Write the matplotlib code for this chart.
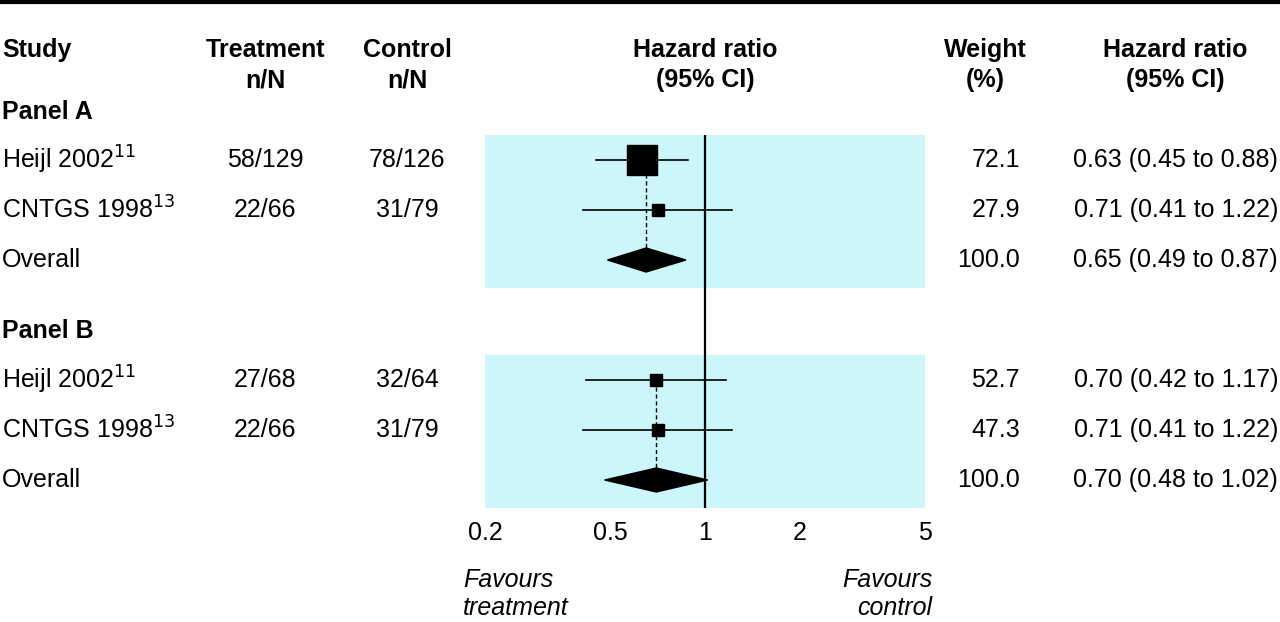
import matplotlib
matplotlib.use("Agg")
import matplotlib.pyplot as plt
from matplotlib.patches import Rectangle, Polygon

plt.rcParams['font.family'] = ['Liberation Sans Narrow', 'Liberation Sans', 'DejaVu Sans']
plt.rcParams['mathtext.fontset'] = 'custom'
plt.rcParams['mathtext.rm'] = 'Liberation Sans Narrow'

studies = [r"Heijl 2002$^{11}$", r"CNTGS 1998$^{13}$", "Overall"]
trt_A = ["58/129", "22/66", ""]
ctl_A = ["78/126", "31/79", ""]
hr_A = [0.63, 0.71, 0.65]
lo_A = [0.45, 0.41, 0.49]
hi_A = [0.88, 1.22, 0.87]
wt_A = [72.1, 27.9, 100.0]
trt_B = ["27/68", "22/66", ""]
ctl_B = ["32/64", "31/79", ""]
hr_B = [0.70, 0.71, 0.70]
lo_B = [0.42, 0.41, 0.48]
hi_B = [1.17, 1.22, 1.02]
wt_B = [52.7, 47.3, 100.0]
xticks = [0.2, 0.5, 1, 2, 5]
xticklabels = ["0.2", "0.5", "1", "2", "5"]

W, H = 1280, 622
fig = plt.figure(figsize=(12.8, 6.22), dpi=100)
bg = fig.add_axes([0, 0, 1, 1])
bg.set_xlim(0, W); bg.set_ylim(H, 0); bg.axis('off')
bg.plot([0, W], [1.5, 1.5], color='black', lw=3)

fs = 18
def t(x, y, s, ha='left', bold=False, italic=False):
    bg.text(x, y, s, ha=ha, va='center', fontsize=fs,
            fontweight='bold' if bold else 'normal',
            fontstyle='italic' if italic else 'normal')

t(2, 50, "Study", bold=True)
for x, lab in [(265, "Treatment"), (407, "Control"), (705, "Hazard ratio"), (985, "Weight"), (1175, "Hazard ratio")]:
    t(x, 50, lab, 'center', bold=True)
for x, lab in [(265, "n/N"), (407, "n/N"), (705, "(95% CI)"), (985, "(%)"), (1175, "(95% CI)")]:
    t(x, 80, lab, 'center', bold=True)
t(2, 112, "Panel A", bold=True)
t(2, 331, "Panel B", bold=True)

# forest axes
x0, x1, y0, y1 = 485, 925, 135, 508
ax = fig.add_axes([x0 / W, 1 - y1 / H, (x1 - x0) / W, (y1 - y0) / H])
ax.set_xscale('log'); ax.set_xlim(0.2, 5); ax.set_ylim(y1, y0); ax.axis('off')
cyan = '#ccf6fa'
ax.add_patch(Rectangle((0.2, 135), 4.8, 152, color=cyan, zorder=0))
ax.add_patch(Rectangle((0.2, 355), 4.8, 153, color=cyan, zorder=0))
ax.plot([1, 1], [135, 508], color='black', lw=1.6, zorder=3)

def panel(rows, hr, lo, hi, wt, trt, ctl, sizes):
    for i, y in enumerate(rows):
        t(2, y, studies[i])
        if trt[i]:
            t(265, y, trt[i], 'center'); t(407, y, ctl[i], 'center')
        t(1020, y, f"{wt[i]:.1f}", 'right')
        t(1278, y, f"{hr[i]:.2f} ({lo[i]:.2f} to {hi[i]:.2f})", 'right')
    for i in range(2):
        y = rows[i]
        ax.plot([lo[i], hi[i]], [y, y], color='black', lw=1.2, zorder=4)
        ax.plot([hr[i]], [y], marker='s', color='black', markersize=sizes[i], zorder=5)
    yd = rows[2]
    ax.add_patch(Polygon([(lo[2], yd), (hr[2], yd - 12), (hi[2], yd), (hr[2], yd + 12)],
                         closed=True, color='black', zorder=5))
    ax.plot([hr[2], hr[2]], [rows[0], yd - 12], color='black', lw=1, ls=(0, (3, 2)), zorder=3)

panel([160, 210, 260], hr_A, lo_A, hi_A, wt_A, trt_A, ctl_A, [21, 8.5])
panel([380, 430, 480], hr_B, lo_B, hi_B, wt_B, trt_B, ctl_B, [8, 8])

for v, lab in zip(xticks, xticklabels):
    px = x0 + (x1 - x0) * (__import__('math').log(v / 0.2) / __import__('math').log(25))
    t(px, 533, lab, 'center')
t(463, 580, "Favours", italic=True); t(463, 608, "treatment", italic=True)
t(932, 580, "Favours", 'right', italic=True); t(932, 608, "control", 'right', italic=True)

fig.savefig("out.png", dpi=100)
